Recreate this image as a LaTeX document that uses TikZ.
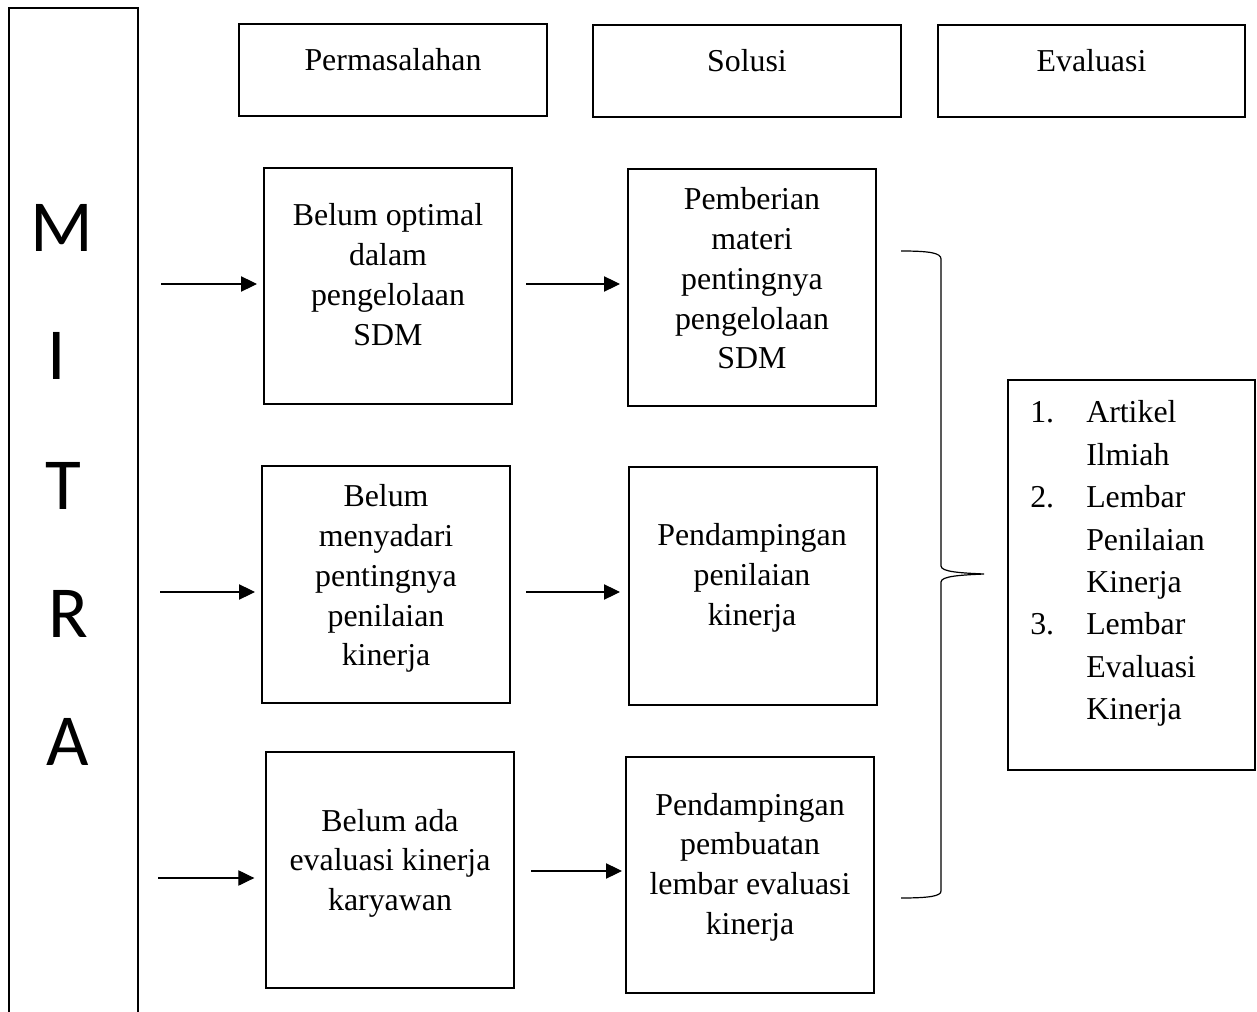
\documentclass[tikz,border=0pt]{standalone}
\usepackage{fontspec}
\setmainfont{Liberation Serif}
\newfontfamily\mitrafont{Carlito}
\usetikzlibrary{arrows.meta}
\newcommand{\bodyfont}{\fontsize{23.9pt}{29.8pt}\selectfont}
\newcommand{\listfont}{\fontsize{23.9pt}{31.8pt}\selectfont}
\begin{document}
\begin{tikzpicture}[x=0.75pt,y=-0.75pt,
  boxline/.style={line width=1.5pt},
  headbox/.style={draw,boxline,minimum width=231pt,minimum height=69pt,inner sep=0pt},
  stepbox/.style={draw,boxline,minimum width=186pt,minimum height=177.5pt,inner sep=0pt},
  txt/.style={anchor=base,inner sep=0pt,font=\bodyfont},
  letter/.style={anchor=base,inner sep=0pt,font=\mitrafont\fontsize{55pt}{60pt}\selectfont},
  arr/.style={line width=0.8pt,-{Triangle[length=12pt,width=11.5pt]}},
  bracel/.style={line width=0.9pt}]
\useasboundingbox (0,0) rectangle (1257,1012);

% MITRA column (open at the bottom)
\draw[boxline] (9,1012) -- (9,8) -- (138,8) -- (138,1012);
\node[letter] (mM) at (62,252) {M};
\node[letter] (mI) at (57,380) {I};
\node[letter] (mT) at (63,509) {T};
\node[letter] (mR) at (68,637) {R};
\node[letter] (mA) at (68,765) {A};

% header boxes
\node[headbox] (hP) at (393,70.5) {};
\node[headbox] (hS) at (747,71) {};
\node[headbox,minimum width=230.25pt] (hE) at (1091.5,71) {};
\node[txt] (hPt) at (393,71) {Permasalahan};
\node[txt] (hSt) at (747,72) {Solusi};
\node[txt] (hEt) at (1091.5,72) {Evaluasi};

% problem / solution boxes
\node[stepbox] (a1) at (388,286) {};
\node[stepbox] (b1) at (752,287.5) {};
\node[stepbox] (a2) at (386,584.5) {};
\node[stepbox,minimum height=178.5pt] (b2) at (753,586) {};
\node[stepbox] (a3) at (390,870) {};
\node[stepbox] (b3) at (750,875) {};

\node[txt] (a1t) at (388,226) {\begin{tabular}[t]{@{}c@{}}Belum optimal\\dalam\\pengelolaan\\SDM\end{tabular}};
\node[txt] (b1t) at (752,210) {\begin{tabular}[t]{@{}c@{}}Pemberian\\materi\\pentingnya\\pengelolaan\\SDM\end{tabular}};
\node[txt] (a2t) at (386,507) {\begin{tabular}[t]{@{}c@{}}Belum\\menyadari\\pentingnya\\penilaian\\kinerja\end{tabular}};
\node[txt] (b2t) at (752,546) {\begin{tabular}[t]{@{}c@{}}Pendampingan\\penilaian\\kinerja\end{tabular}};
\node[txt] (a3t) at (390,831) {\begin{tabular}[t]{@{}c@{}}Belum ada\\evaluasi kinerja\\karyawan\end{tabular}};
\node[txt] (b3t) at (750,815) {\begin{tabular}[t]{@{}c@{}}Pendampingan\\pembuatan\\lembar evaluasi\\kinerja\end{tabular}};

% evaluation box
\node[draw,boxline,minimum width=185.25pt,minimum height=292.5pt,inner sep=0pt] (ev) at (1131.5,575) {};
\node[anchor=base west,inner sep=0pt,font=\listfont] (evt) at (1030,423) {\begin{tabular}[t]{@{}l@{}l@{}}
\makebox[42pt][l]{1.}&Artikel\\ &Ilmiah\\
\makebox[42pt][l]{2.}&Lembar\\ &Penilaian\\ &Kinerja\\
\makebox[42pt][l]{3.}&Lembar\\ &Evaluasi\\ &Kinerja\end{tabular}};

% arrows
\coordinate (c1) at (161,284);
\coordinate (c2) at (160,592);
\coordinate (c3) at (158,878);
\coordinate (r1) at (0,284);
\coordinate (r2) at (0,592);
\coordinate (r3) at (0,871);
\draw[arr,shorten >=4.5pt] (c1) -- (c1 -| a1.west);
\draw[arr,shorten >=4.5pt] (c2) -- (c2 -| a2.west);
\draw[arr,shorten >=8pt] (c3) -- (c3 -| a3.west);
\draw[arr,shorten <=9.75pt,shorten >=5.25pt] (a1.east |- r1) -- (b1.west |- r1);
\draw[arr,shorten <=11.25pt,shorten >=6pt] (a2.east |- r2) -- (b2.west |- r2);
\draw[arr,shorten <=12pt,shorten >=2.25pt] (a3.east |- r3) -- (b3.west |- r3);

% brace
\draw[bracel] (901,251) .. controls (930,251) and (941,253) .. (941,259)
  -- (941,566) .. controls (941,572) and (962,573) .. (984,574)
  .. controls (962,575) and (941,576) .. (941,582)
  -- (941,891) .. controls (941,896) and (930,898) .. (901,898);
\end{tikzpicture}
\end{document}
